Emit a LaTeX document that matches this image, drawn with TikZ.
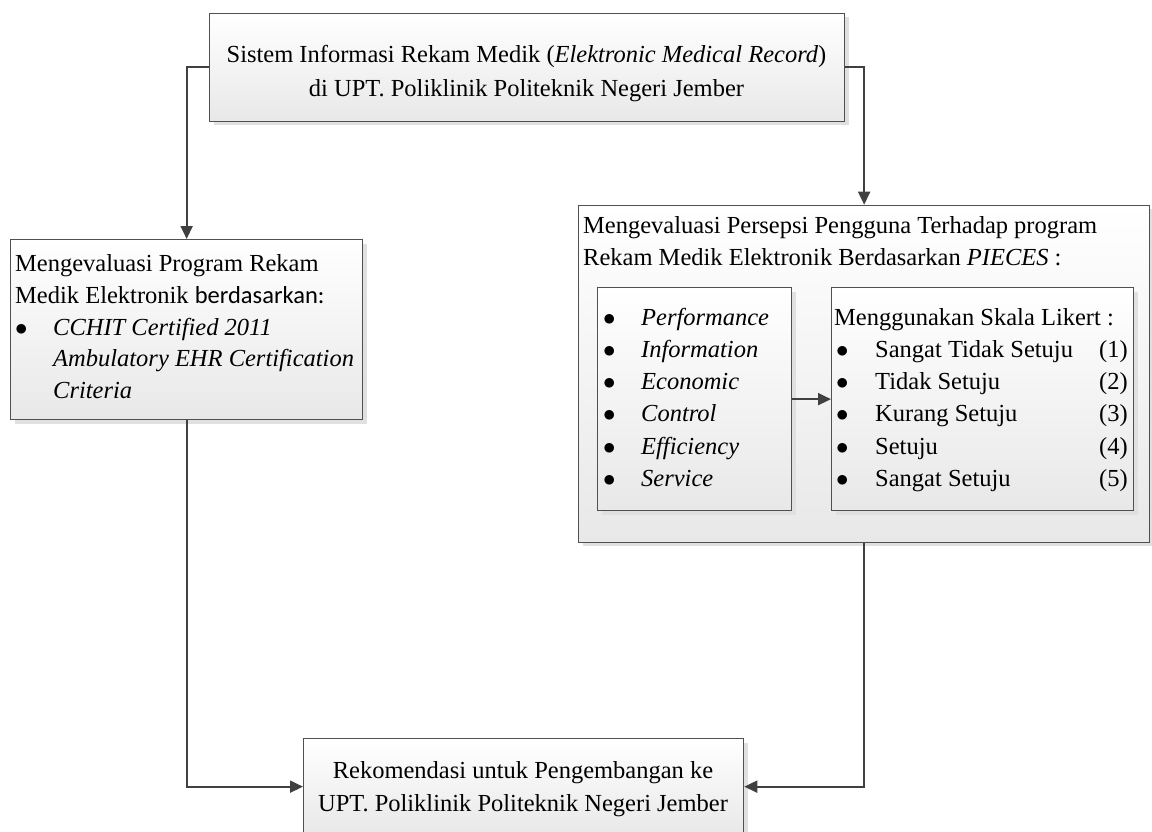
\documentclass[tikz,border=0pt]{standalone}
\usepackage{fontspec}
\setmainfont{Liberation Serif}
\newfontfamily\calibri{Carlito}
\usetikzlibrary{arrows.meta,shadows}
\definecolor{boxline}{HTML}{505050}
\definecolor{connline}{HTML}{404040}
\definecolor{boxgray}{HTML}{E8E8E8}
\definecolor{shadowgray}{HTML}{E0E0E0}
\newcommand{\bul}{$\bullet$}
\tikzset{
  box/.style={draw=boxline, line width=1.3pt, top color=white, bottom color=boxgray,
    drop shadow={shadow xshift=4pt, shadow yshift=-4pt, fill=shadowgray, opacity=1},
    inner sep=0pt, anchor=north west},
  conn/.style={draw=connline, line width=1.9pt, -{Triangle[length=13pt,width=12pt]}},
  txt/.style={inner sep=0pt, font=\fontsize{24.5}{31.7}\selectfont},
  tl/.style={txt, anchor=base west},
  tc/.style={txt, anchor=base},
  tr/.style={txt, anchor=base east}
}
\begin{document}
\begin{tikzpicture}[x=1pt,y=-1pt]
\useasboundingbox (0,0) rectangle (1152,832);
% boxes
\node[box, minimum width=635pt, minimum height=108pt] (top) at (209,12.7) {};
\node[box, minimum width=352pt, minimum height=180pt] (left) at (10,239) {};
\node[box, minimum width=571pt, minimum height=337pt] (right) at (578,204.7) {};
\node[box, minimum width=194pt, minimum height=223pt] (inL) at (597,287) {};
\node[box, minimum width=302pt, minimum height=223pt] (inR) at (831,287) {};
\node[box, minimum width=440pt, minimum height=96pt] (bot) at (303,738) {};
% connectors
\draw[conn] (top.west) -| (left.north);
\draw[conn] (top.east) -| (right.north);
\draw[conn] (left.south) |- (bot.west);
\draw[conn] (right.south) |- (bot.east);
\draw[conn] (inL.east) -- (inR.west);
% top text
\node[tc] (t1) at (526.5,63) {Sistem Informasi Rekam Medik (\textit{Elektronic Medical Record})};
\node[tc] (t2) at (526.5,96.7) {di UPT. Poliklinik Politeknik Negeri Jember};
% left text
\node[tl] (l1) at (15,271.7) {Mengevaluasi Program Rekam};
\node[tl] (l2) at (15,303.4) {Medik Elektronik {\calibri berdasarkan:}};
\node[tl] (l3b) at (15,335) {\bul};
\node[tl] (l3) at (53,335) {\textit{CCHIT Certified 2011}};
\node[tl] (l4) at (53,366.7) {\textit{Ambulatory EHR Certification}};
\node[tl] (l5) at (53,398.4) {\textit{Criteria}};
% right header
\node[tl] (r1) at (583,233.3) {Mengevaluasi Persepsi Pengguna Terhadap program};
\node[tl] (r2) at (583,265) {Rekam Medik Elektronik Berdasarkan \textit{PIECES} :};
% inner left list
\foreach \t [count=\i] in {Performance,Information,Economic,Control,Efficiency,Service}{
  \node[tl] (pb\i) at (603,{325+32.3*(\i-1)}) {\bul};
  \node[tl] (pt\i) at (641,{325+32.3*(\i-1)}) {\textit{\t}};
}
% inner right list
\node[tl] (lk0) at (834,325) {Menggunakan Skala Likert :};
\foreach \t/\n [count=\i] in {Sangat Tidak Setuju/1,Tidak Setuju/2,Kurang Setuju/3,Setuju/4,Sangat Setuju/5}{
  \node[tl] (lb\i) at (836,{325+32.3*\i}) {\bul};
  \node[tl] (lt\i) at (875,{325+32.3*\i}) {\t};
  \node[tr] (ln\i) at (1128,{325+32.3*\i}) {(\n)};
}
% bottom text
\node[tc] (b1) at (523,778) {Rekomendasi untuk Pengembangan ke};
\node[tc] (b2) at (523,811.7) {UPT. Poliklinik Politeknik Negeri Jember};
\end{tikzpicture}
\end{document}
